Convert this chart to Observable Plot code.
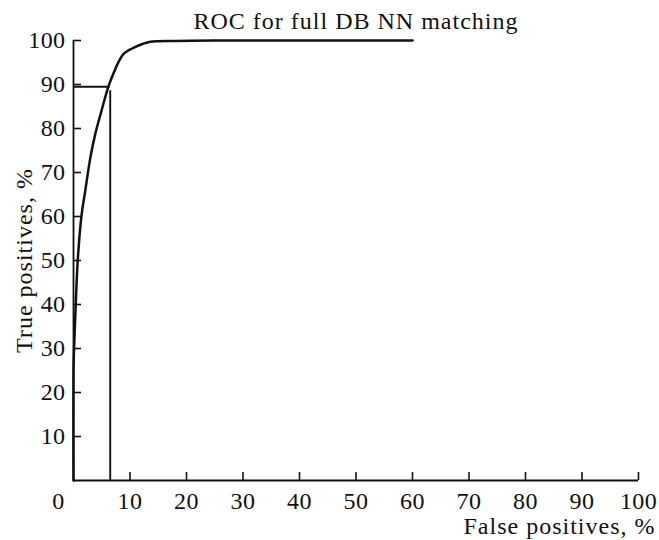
<!DOCTYPE html>
<html>
<head>
<meta charset="utf-8">
<script src="https://cdn.jsdelivr.net/npm/d3@7"></script>
<script src="https://cdn.jsdelivr.net/npm/@observablehq/plot@0.6"></script>
<style>
  html, body { margin: 0; padding: 0; background: #fff; }
  #chart svg { display: block; }
  #chart svg text { font-family: 'Liberation Serif', 'Times New Roman', serif; letter-spacing: 1px; }
  #chart svg g[aria-label$="tick label"] text { letter-spacing: 0.4px; }
</style>
</head>
<body>
<div id="chart"></div>
<script>
// ROC curve (false positives %, true positives %)
const falsePositives = [0, 0, 0.1, 0.4, 0.75, 1.4, 2.1, 3.0, 3.9, 4.8, 5.7, 6.25, 7.1, 8.0, 8.9, 9.8, 10.7, 12.2, 13.6, 18, 25, 40, 60];
const truePositives  = [0, 25, 30, 40, 50, 60, 66, 73.5, 79, 83.3, 87.5, 89.8, 92.6, 95.2, 97.0, 97.8, 98.4, 99.2, 99.7, 99.9, 100, 100, 100];
// operating point
const operatingFP = [6.5];
const operatingTP = [89.5];
// ticks
const xTicks = [10, 20, 30, 40, 50, 60, 70, 80, 90, 100];
const yTicks = [10, 20, 30, 40, 50, 60, 70, 80, 90, 100];
const originTick = [0];
const title = "ROC for full DB NN matching";
const xLabel = "False positives, %";
const yLabel = "True positives, %";

const curve = falsePositives.map((fp, i) => ({fp, tp: truePositives[i]}));
const op = operatingFP.map((fp, i) => ({fp, tp: operatingTP[i]}));

const font = "'Liberation Serif', 'Times New Roman', serif";
const ink = "#111";
const fs = 24;

const W = 659, H = 540;
const mL = 73, mR = 21, mT = 40, mB = 60;
const frameW = W - mL - mR, frameH = H - mT - mB;

const chart = Plot.plot({
  width: W,
  height: H,
  marginLeft: mL,
  marginRight: mR,
  marginTop: mT,
  marginBottom: mB,
  style: {fontFamily: font, fontSize: fs + "px", color: ink, background: "#fff"},
  x: {domain: [0, 100]},
  y: {domain: [0, 100]},
  marks: [
    // axis lines
    Plot.ruleX(originTick, {x: d => d, stroke: ink, strokeWidth: 1.8}),
    Plot.ruleY(originTick, {y: d => d, stroke: ink, strokeWidth: 1.8}),
    // inward ticks
    Plot.tickX(xTicks, {x: d => d, stroke: ink, strokeWidth: 1.6, insetTop: frameH - 8}),
    Plot.tickY(yTicks, {y: d => d, stroke: ink, strokeWidth: 1.6, insetRight: frameW - 8}),
    // tick labels
    Plot.axisX({ticks: xTicks, tickSize: 0, tickPadding: 11, tickFormat: d => String(d), fontSize: fs, fontFamily: font, fill: ink, label: null}),
    Plot.axisX({ticks: originTick, tickSize: 0, tickPadding: 11, dx: -15, tickFormat: d => String(d), fontSize: fs, fontFamily: font, fill: ink, label: null}),
    Plot.axisY({ticks: yTicks, tickSize: 0, tickPadding: 8, tickFormat: d => String(d), fontSize: fs, fontFamily: font, fill: ink, label: null}),
    // operating point lines
    Plot.ruleY(op, {y: "tp", x1: 0, x2: "fp", stroke: ink, strokeWidth: 1.9}),
    Plot.ruleX(op, {x: "fp", y1: 0, y2: "tp", insetBottom: -4, stroke: ink, strokeWidth: 1.9}),
    // ROC curve
    Plot.line(curve, {x: "fp", y: "tp", curve: "catmull-rom", stroke: ink, strokeWidth: 2.5}),
    // title and axis labels
    Plot.text([title], {text: d => d, frameAnchor: "top", textAnchor: "middle", lineAnchor: "bottom", dy: -12, fontSize: fs, fontFamily: font, fill: ink}),
    Plot.text([xLabel], {text: d => d, frameAnchor: "bottom-right", textAnchor: "end", lineAnchor: "bottom", dx: 17, dy: 53, fontSize: fs, fontFamily: font, fill: ink}),
    Plot.text([yLabel], {text: d => d, frameAnchor: "left", textAnchor: "middle", rotate: -90, lineAnchor: "middle", dx: -49, fontSize: fs, fontFamily: font, fill: ink})
  ]
});

document.getElementById("chart").appendChild(chart);
</script>
</body>
</html>
